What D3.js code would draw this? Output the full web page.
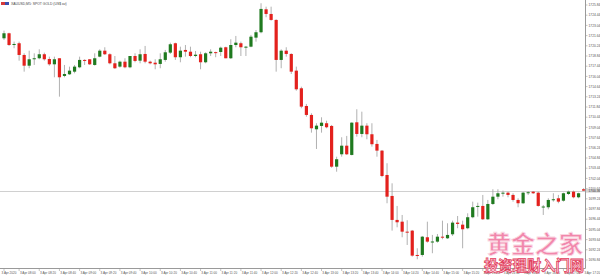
<!DOCTYPE html>
<html><head><meta charset="utf-8">
<script src="https://cdn.jsdelivr.net/npm/d3@7"></script>
<style>html,body{margin:0;padding:0;background:#fff;overflow:hidden}svg{display:block}</style>
</head><body>
<svg id="chart" width="600" height="276"></svg>
<script>
const title = "XAUUSD,M5: SPOT GOLD (US$ oz)";
const open = [
1721.27,1721.96,1720.35,1720.59,1718.98,1717.51,1718.50,1718.53,1719.08,1718.43,
1717.70,1718.53,1716.10,1716.33,1716.69,1717.29,1718.30,1718.39,1717.61,1718.75,
1719.57,1719.08,1717.84,1717.38,1718.06,1717.29,1718.84,1718.20,1719.12,1718.06,
1717.92,1717.75,1718.30,1719.30,1720.59,1718.67,1719.67,1719.43,1718.84,1719.08,
1717.98,1719.21,1719.37,1719.39,1720.04,1718.53,1720.35,1720.59,1720.10,1720.12,
1721.36,1722.10,1725.25,1724.61,1723.79,1718.30,1719.57,1719.12,1716.83,1714.41,
1711.98,1710.75,1708.78,1709.24,1709.61,1709.24,1703.65,1705.35,1706.53,1705.26,
1709.74,1708.14,1709.28,1708.10,1706.77,1705.85,1702.51,1699.63,1696.34,1696.10,
1694.73,1694.87,1691.53,1691.53,1693.96,1693.36,1693.36,1694.04,1693.82,1694.37,
1695.97,1695.69,1695.20,1696.71,1698.20,1698.26,1696.43,1698.53,1699.53,1700.00,
1700.08,1699.77,1699.08,1698.63,1700.12,1700.22,1700.08,1698.16,1698.08,1699.14,
1699.31,1698.98,1699.90,1700.22,1699.45,1700.55];
const high = [
1722.32,1722.04,1720.81,1720.81,1719.21,1719.57,1719.21,1719.76,1719.30,1718.75,
1718.75,1718.53,1717.61,1717.38,1717.61,1718.75,1718.39,1718.39,1719.21,1719.76,
1720.04,1719.21,1718.84,1718.20,1718.53,1718.84,1719.21,1719.76,1720.22,1718.20,
1718.39,1719.21,1719.67,1720.67,1720.67,1720.12,1720.35,1720.12,1719.53,1719.43,
1719.35,1719.76,1719.43,1720.12,1720.12,1721.14,1721.59,1720.81,1720.22,1721.73,
1722.41,1726.08,1725.61,1725.61,1723.88,1719.76,1720.04,1719.21,1717.38,1714.63,
1712.26,1710.98,1709.61,1710.43,1709.96,1709.38,1705.02,1707.69,1707.87,1709.74,
1711.53,1711.20,1709.61,1709.61,1707.32,1705.94,1704.12,1701.37,1698.26,1697.02,
1696.30,1694.96,1692.45,1694.14,1696.10,1694.28,1694.41,1696.24,1695.88,1696.24,
1696.88,1696.24,1697.25,1698.85,1698.71,1699.77,1699.08,1700.55,1700.55,1700.36,
1700.22,1700.00,1699.31,1700.18,1700.30,1700.30,1700.22,1698.39,1699.31,1700.00,
1699.77,1700.08,1700.36,1700.36,1700.08,1700.70];
const low = [
1721.04,1720.22,1719.90,1718.20,1716.69,1717.16,1717.61,1718.39,1718.20,1717.51,
1715.92,1713.26,1715.92,1716.24,1716.47,1717.16,1717.61,1717.61,1717.51,1718.67,
1718.98,1717.70,1717.06,1717.24,1717.16,1717.16,1717.98,1717.84,1717.84,1717.70,
1717.02,1717.16,1718.06,1719.12,1718.30,1717.98,1718.75,1718.67,1718.67,1717.02,
1717.84,1718.84,1718.67,1718.84,1718.53,1718.43,1720.04,1718.84,1718.84,1720.04,
1720.81,1721.96,1724.16,1723.69,1716.69,1717.16,1718.75,1716.37,1714.08,1711.67,
1710.51,1708.32,1706.08,1708.32,1708.92,1703.50,1702.96,1705.02,1705.26,1705.20,
1707.77,1707.69,1707.41,1706.40,1705.02,1702.20,1698.63,1694.87,1695.33,1693.96,
1692.90,1691.30,1690.94,1691.30,1693.22,1691.77,1693.22,1693.69,1693.73,1694.14,
1695.20,1692.45,1695.06,1696.57,1696.79,1696.34,1696.34,1698.39,1699.18,1699.53,
1699.45,1698.85,1698.08,1698.53,1699.77,1699.90,1698.16,1697.02,1697.80,1698.85,
1698.63,1698.85,1699.77,1699.31,1699.31,1700.30];
const close = [
1721.96,1720.35,1720.49,1718.98,1717.51,1718.39,1718.53,1719.08,1718.39,1717.70,
1718.39,1715.92,1716.37,1716.83,1717.38,1718.30,1718.28,1717.70,1718.53,1719.57,
1719.08,1717.84,1717.16,1718.06,1717.29,1718.84,1718.16,1719.08,1718.06,1717.84,
1717.70,1718.39,1719.35,1720.45,1718.67,1719.57,1719.43,1718.84,1719.02,1717.98,
1719.21,1719.43,1719.35,1719.98,1718.53,1720.35,1720.67,1720.04,1720.12,1721.49,
1722.10,1725.30,1724.61,1723.79,1718.30,1719.57,1719.12,1716.69,1714.27,1711.89,
1710.75,1708.92,1709.28,1709.69,1709.06,1703.65,1704.67,1706.53,1705.35,1709.69,
1708.14,1709.28,1708.10,1706.73,1705.85,1702.37,1699.53,1696.34,1696.02,1694.73,
1694.71,1691.44,1691.39,1694.04,1693.36,1693.38,1694.04,1693.91,1694.28,1695.97,
1695.79,1695.06,1696.71,1698.08,1698.26,1696.43,1698.53,1699.53,1700.00,1700.08,
1699.77,1699.08,1698.63,1700.08,1700.14,1700.00,1698.26,1698.18,1699.08,1699.18,
1698.85,1700.00,1700.22,1699.45,1700.00,1700.36];
const priceTicks = [1725.84,1724.44,1723.04,1721.64,1720.24,1718.84,1717.44,1716.04,1714.64,1713.24,
1711.84,1710.44,1709.04,1707.64,1706.24,1704.84,1703.44,1702.04,1700.64,1699.24,1697.84,1696.44,
1695.04,1693.64,1692.24,1690.84];
const timeBars = [0,3,7,11,15,19,23,27,31,35,39,43,47,51,55,59,63,67,71,75,79,83,87,91,95,99,103,107,111,115];
const timeLabels = ["3 Apr 2020","3 Apr 08:00","3 Apr 08:20","3 Apr 08:40","3 Apr 09:00","3 Apr 09:20",
"3 Apr 09:40","3 Apr 10:00","3 Apr 10:20","3 Apr 10:40","3 Apr 11:00","3 Apr 11:20","3 Apr 11:40",
"3 Apr 12:00","3 Apr 12:20","3 Apr 12:40","3 Apr 13:00","3 Apr 13:20","3 Apr 13:40","3 Apr 14:00",
"3 Apr 14:20","3 Apr 14:40","3 Apr 15:00","3 Apr 15:20","3 Apr 15:40","3 Apr 16:00","3 Apr 16:20",
"3 Apr 16:40","3 Apr 17:00","3 Apr 17:20"];
const watermark1 = "黄金之家";
const watermark2 = "投资理财入门网";

const svg = d3.select("#chart");
const W = 600, H = 276;
const axisX = 585.5, axisY = 268.5;
const n = open.length;
const x = d3.scaleLinear().domain([0, n - 1]).range([4, 583.6]);
const y = d3.scaleLinear().domain([1725.84, 1690.84]).range([5, 260]);
const fontAxis = "'Liberation Sans', Arial, sans-serif";

svg.append("rect").attr("width", W).attr("height", H).attr("fill", "#fff");

const bars = d3.range(n).map(i => ({i, o: open[i], h: high[i], l: low[i], c: close[i]}));

// current price line
const last = close[n - 1];
svg.append("line").attr("x1", 0).attr("x2", axisX).attr("y1", Math.round(y(last)) + 0.5).attr("y2", Math.round(y(last)) + 0.5)
  .attr("stroke", "#d0d0d0").attr("stroke-width", 1);

// wicks
svg.append("g").selectAll("line").data(bars).join("line")
  .attr("x1", d => x(d.i)).attr("x2", d => x(d.i))
  .attr("y1", d => y(d.h)).attr("y2", d => y(d.l))
  .attr("stroke", "#a8a8a8").attr("stroke-width", 0.9);

// bodies
svg.append("g").selectAll("rect").data(bars).join("rect")
  .attr("x", d => x(d.i) - 1.6).attr("width", 3.2)
  .attr("y", d => Math.min(y(d.o), y(d.c)))
  .attr("height", d => Math.max(1, Math.abs(y(d.o) - y(d.c))))
  .attr("fill", d => d.c >= d.o ? "#1f7a1f" : "#e3211d");

// axes lines
svg.append("line").attr("x1", axisX).attr("x2", axisX).attr("y1", 0).attr("y2", axisY)
  .attr("stroke", "#9a9a9a").attr("stroke-width", 1);
svg.append("line").attr("x1", 0).attr("x2", axisX).attr("y1", axisY).attr("y2", axisY)
  .attr("stroke", "#9a9a9a").attr("stroke-width", 1);

// price axis
const pg = svg.append("g");
priceTicks.forEach(p => {
  const yy = y(p);
  pg.append("line").attr("x1", axisX).attr("x2", axisX + 2).attr("y1", yy).attr("y2", yy).attr("stroke", "#9a9a9a").attr("stroke-width", 0.6);
  pg.append("text").attr("x", axisX + 3).attr("y", yy + 1.1).text(p.toFixed(2))
    .attr("font-family", fontAxis).attr("font-size", 3.3).attr("fill", "#555");
});
// current price box
pg.append("rect").attr("x", axisX + 0.5).attr("y", y(last) - 2).attr("width", 14).attr("height", 4).attr("fill", "#d4d4d4");
pg.append("text").attr("x", axisX + 3).attr("y", y(last) + 1.1).text(last.toFixed(2))
  .attr("font-family", fontAxis).attr("font-size", 3.3).attr("fill", "#333");

// time axis
const tg = svg.append("g");
timeBars.forEach((b, k) => {
  const xx = x(b);
  tg.append("line").attr("x1", xx).attr("x2", xx).attr("y1", axisY).attr("y2", axisY + 2.5).attr("stroke", "#9a9a9a").attr("stroke-width", 0.6);
  tg.append("text").attr("x", k === 0 ? 1.5 : xx + 0.8).attr("y", 273.5).text(timeLabels[k])
    .attr("font-family", fontAxis).attr("font-size", 3.1).attr("fill", "#555");
});

// title
svg.append("rect").attr("x", 1).attr("y", 2).attr("width", 4).attr("height", 3).attr("fill", "#d63a3a");
svg.append("rect").attr("x", 5).attr("y", 2).attr("width", 4).attr("height", 3).attr("fill", "#3a4fb0");
svg.append("text").attr("x", 11).attr("y", 4.6).text(title)
  .attr("font-family", fontAxis).attr("font-size", 3.4).attr("fill", "#444");

// watermark
svg.append("text").attr("x", 487).attr("y", 253).text(watermark1)
  .attr("font-family", "'Noto Sans CJK SC', sans-serif").attr("font-weight", 700).attr("font-size", 24)
  .attr("fill", "#f07ba2").attr("stroke", "#fbd6e2").attr("stroke-width", 0.8).attr("opacity", 0.9);
svg.append("text").attr("x", 484).attr("y", 271).text(watermark2)
  .attr("font-family", "'Noto Sans CJK SC', sans-serif").attr("font-weight", 700).attr("font-size", 14.3)
  .attr("fill", "#fbd3de").attr("stroke", "#e23f5e").attr("stroke-width", 0.8);
</script>
</body></html>
